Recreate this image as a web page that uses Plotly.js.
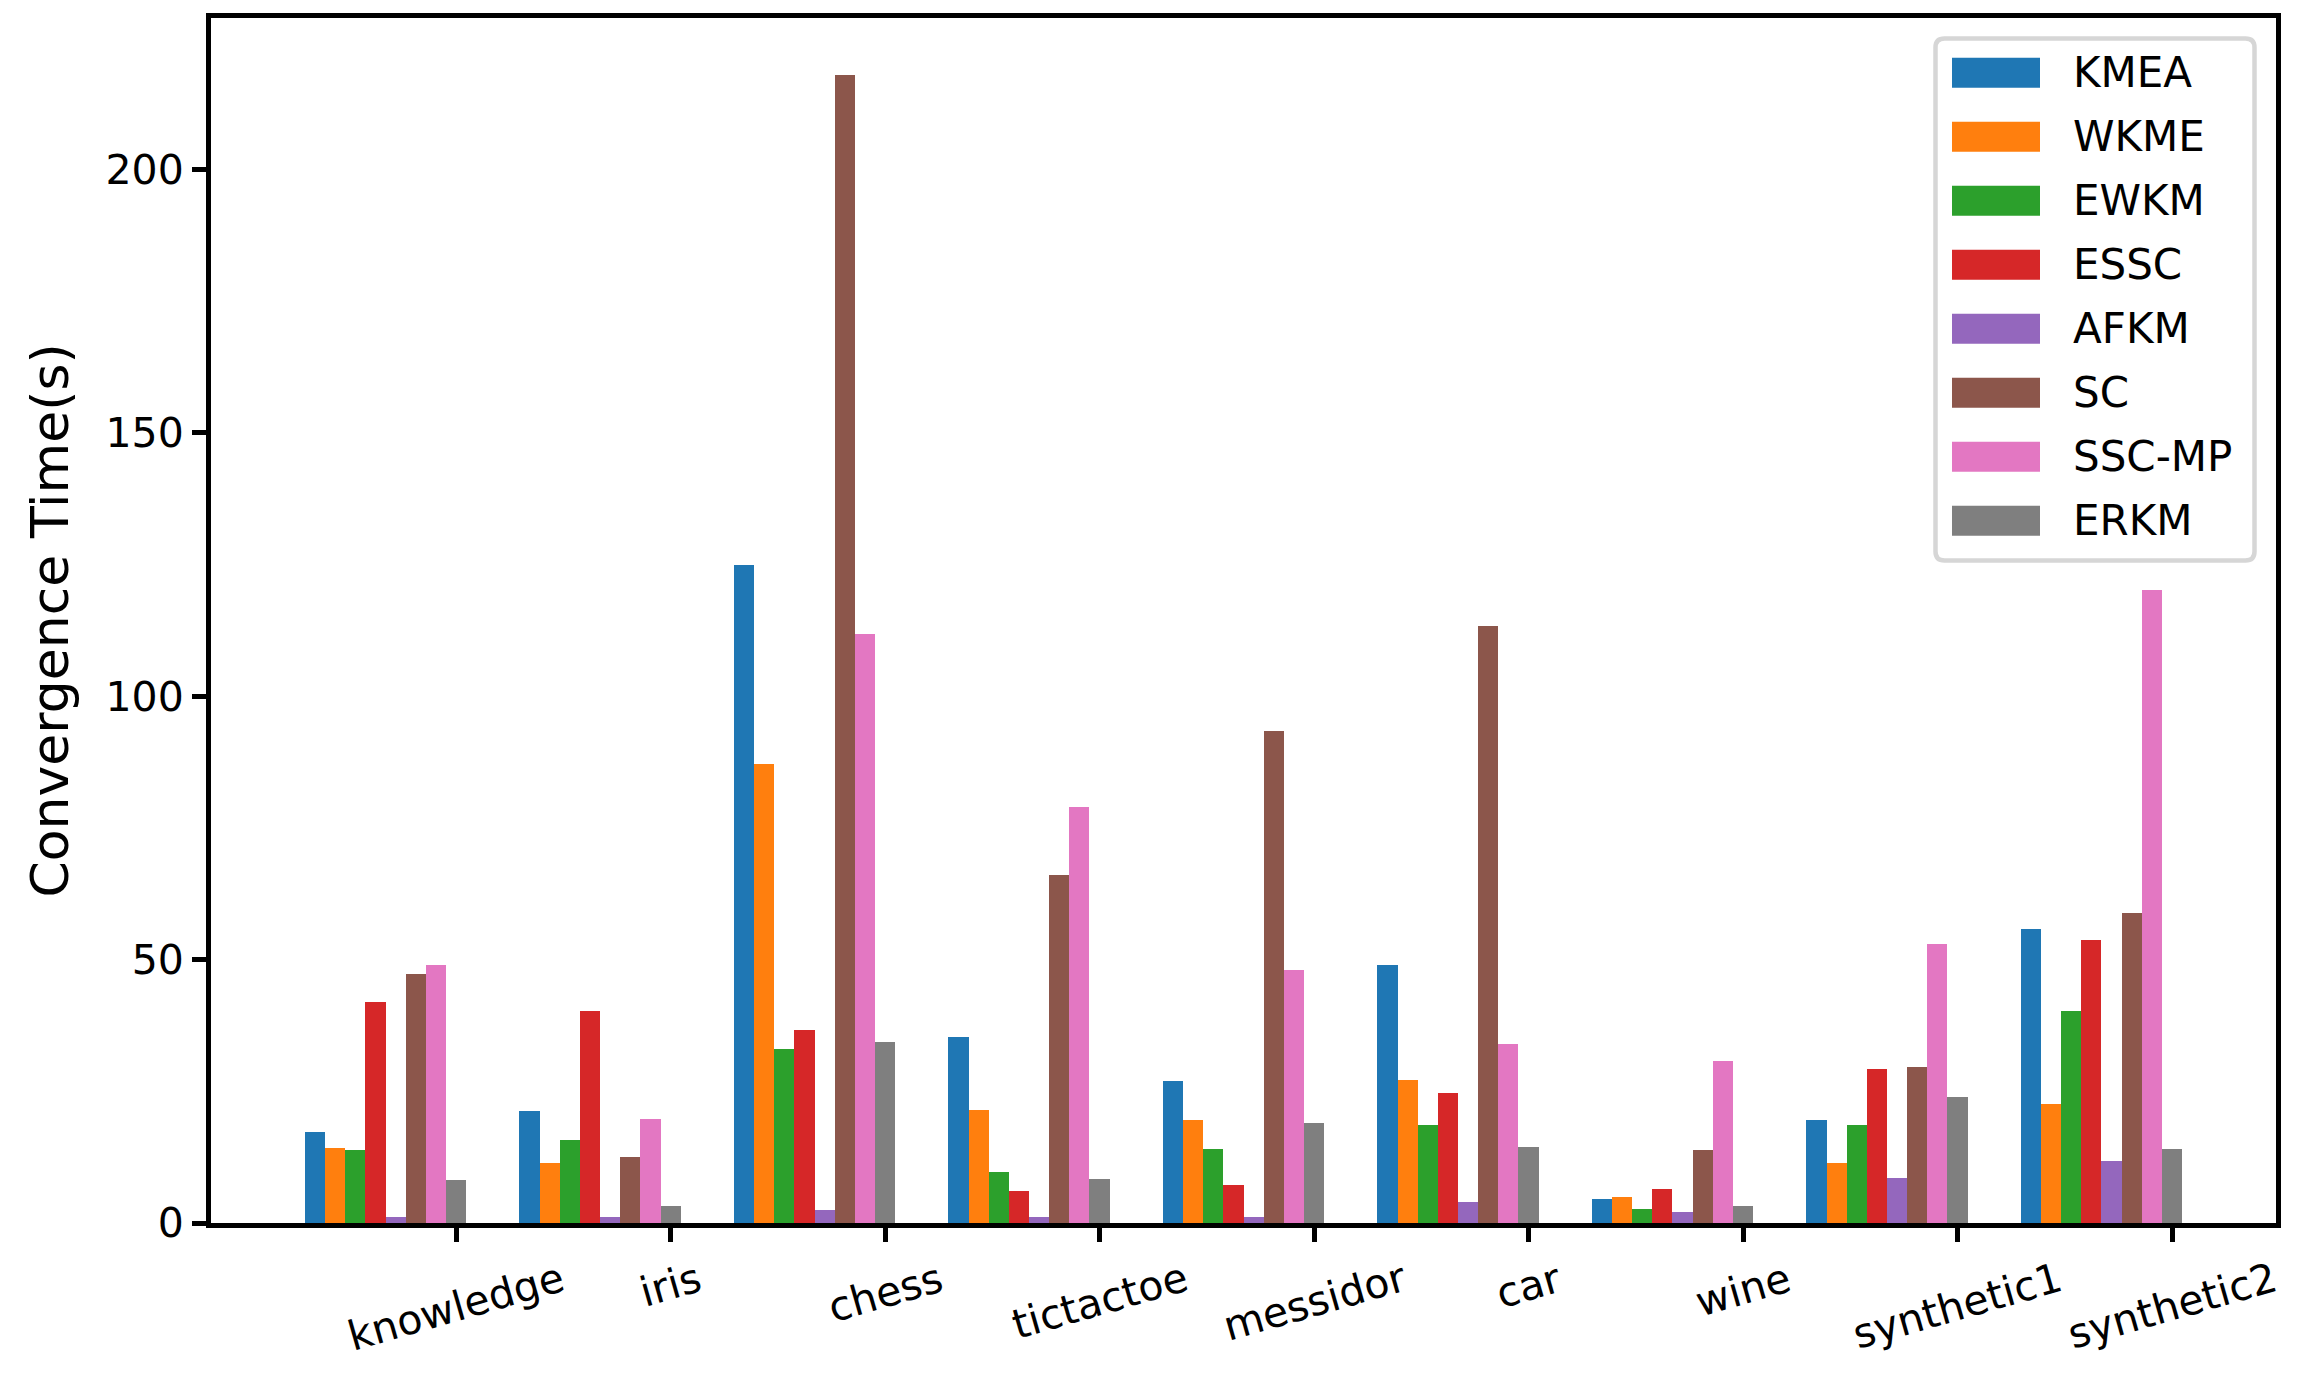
<!DOCTYPE html>
<html>
<head>
<meta charset="utf-8">
<script src="https://cdn.plot.ly/plotly-3.0.1.min.js"></script>
<style>
  html, body { margin: 0; padding: 0; background: #ffffff; }
  #chart { width: 2300px; height: 1385px; }
</style>
</head>
<body>
<div id="chart"></div>
<script>
// ---- data ----
const categories = ['knowledge', 'iris', 'chess', 'tictactoe', 'messidor', 'car', 'wine', 'synthetic1', 'synthetic2'];
const seriesNames = ['KMEA', 'WKME', 'EWKM', 'ESSC', 'AFKM', 'SC', 'SSC-MP', 'ERKM'];
const KMEA  = [17.2, 21.2, 124.9, 35.4, 27.0, 49.0, 4.6, 19.6, 55.9];
const WKME  = [14.2, 11.4, 87.1, 21.5, 19.5, 27.2, 5.0, 11.4, 22.6];
const EWKM  = [13.9, 15.7, 33.1, 9.7, 14.0, 18.6, 2.7, 18.6, 40.2];
const ESSC  = [41.9, 40.2, 36.7, 6.0, 7.3, 24.7, 6.5, 29.2, 53.7];
const AFKM  = [1.1, 1.2, 2.5, 1.2, 1.2, 3.9, 2.1, 8.6, 11.8];
const SC    = [47.2, 12.5, 217.9, 66.1, 93.5, 113.4, 13.9, 29.6, 58.9];
const SSCMP = [48.9, 19.7, 111.9, 79.0, 48.1, 34.0, 30.8, 52.9, 120.2];
const ERKM  = [8.2, 3.2, 34.4, 8.3, 18.9, 14.4, 3.3, 24.0, 14.1];
const seriesValues = [KMEA, WKME, EWKM, ESSC, AFKM, SC, SSCMP, ERKM];
const yTickVals = [0, 50, 100, 150, 200];
const yTitle = 'Convergence Time(s)';

// ---- style ----
const colors = ['#1f77b4', '#ff7f0e', '#2ca02c', '#d62728', '#9467bd', '#8c564b', '#e377c2', '#7f7f7f'];
const FONT = 'DejaVu Sans, Liberation Sans, sans-serif';
const W = 2300, H = 1385;
const M = { l: 211, r: 24, t: 18, b: 162 };
const PW = W - M.l - M.r, PH = H - M.t - M.b;
const px2x = px => (px - M.l) / PW;
const py2y = py => (H - M.b - py) / PH;

const nS = seriesNames.length;
const barW = 0.094;
// bars of a group end on the tick of the category (tick at the centre of the last bar)
const dataMin = -(nS - 0.5) * barW;
const dataMax = (categories.length - 1) + 0.5 * barW;
const pad = 0.05 * (dataMax - dataMin);
const yMax = Math.max(...seriesValues.flat()) * 1.05;

const traces = seriesNames.map((name, i) => ({
  type: 'bar',
  name: name,
  x: categories,
  y: seriesValues[i],
  width: barW,
  offset: (i - nS + 0.5) * barW,
  marker: { color: colors[i], line: { width: 0 } },
  showlegend: false,
  hoverinfo: 'x+y+name'
}));

const annotations = [];
const shapes = [];

// x tick labels (rotated, centred under each tick)
categories.forEach(c => {
  annotations.push({
    x: c, xref: 'x', y: py2y(1251), yref: 'paper',
    text: c, showarrow: false, textangle: -16,
    xanchor: 'center', yanchor: 'top',
    font: { family: FONT, size: 41, color: '#000' }
  });
});

// y axis title
annotations.push({
  x: px2x(49), xref: 'paper', y: 0.5, yref: 'paper',
  text: yTitle, showarrow: false, textangle: -90,
  xanchor: 'center', yanchor: 'middle',
  font: { family: FONT, size: 52, color: '#000' }
});

// legend frame (rounded)
const L = { x0: 1935.5, x1: 2254.5, y0: 38.5, y1: 560.5, r: 9 };
const fx = px2x, fy = py2y;
const rx = L.r / PW, ry = L.r / PH;
const lp = [
  'M', fx(L.x0) + rx, fy(L.y0),
  'L', fx(L.x1) - rx, fy(L.y0),
  'Q', fx(L.x1), fy(L.y0), fx(L.x1), fy(L.y0) - ry,
  'L', fx(L.x1), fy(L.y1) + ry,
  'Q', fx(L.x1), fy(L.y1), fx(L.x1) - rx, fy(L.y1),
  'L', fx(L.x0) + rx, fy(L.y1),
  'Q', fx(L.x0), fy(L.y1), fx(L.x0), fy(L.y1) + ry,
  'L', fx(L.x0), fy(L.y0) - ry,
  'Q', fx(L.x0), fy(L.y0), fx(L.x0) + rx, fy(L.y0),
  'Z'
];
let pathStr = '';
for (let k = 0; k < lp.length; k++) {
  const v = lp[k];
  if (typeof v === 'string') pathStr += v;
  else { pathStr += v.toFixed(6); pathStr += (typeof lp[k + 1] === 'number') ? ',' : ' '; }
}
shapes.push({
  type: 'path', xref: 'paper', yref: 'paper', path: pathStr,
  fillcolor: 'rgba(255,255,255,0.8)', line: { color: '#d6d6d6', width: 4.5 }, layer: 'above'
});

// legend entries
seriesNames.forEach((name, i) => {
  const cy = 72.8 + 64 * i;
  shapes.push({
    type: 'rect', xref: 'paper', yref: 'paper',
    x0: px2x(1952), x1: px2x(2040), y0: py2y(cy - 15), y1: py2y(cy + 15),
    fillcolor: colors[i], line: { width: 0 }, layer: 'above'
  });
  annotations.push({
    x: px2x(2071), xref: 'paper', y: py2y(cy), yref: 'paper',
    text: name, showarrow: false, xanchor: 'left', yanchor: 'middle',
    font: { family: FONT, size: 42, color: '#000' }
  });
});

const layout = {
  width: W, height: H,
  margin: M,
  paper_bgcolor: '#ffffff', plot_bgcolor: '#ffffff',
  barmode: 'overlay',
  bargap: 0,
  showlegend: false,
  font: { family: FONT, size: 41, color: '#000' },
  xaxis: {
    type: 'category',
    range: [dataMin - pad, dataMax + pad],
    tickvals: categories,
    ticktext: categories.map(() => ''),
    showgrid: false, zeroline: false,
    showline: true, mirror: true, linecolor: '#000', linewidth: 5,
    ticks: 'outside', ticklen: 14, tickwidth: 5, tickcolor: '#000'
  },
  yaxis: {
    range: [0, yMax],
    tickvals: yTickVals,
    ticktext: yTickVals.map(String),
    showgrid: false, zeroline: false,
    showline: true, mirror: true, linecolor: '#000', linewidth: 5,
    ticks: 'outside', ticklen: 14, tickwidth: 5, tickcolor: '#000',
    tickfont: { family: FONT, size: 41, color: '#000' }
  },
  annotations: annotations,
  shapes: shapes
};

Plotly.newPlot('chart', traces, layout, { displayModeBar: false, staticPlot: true });
</script>
</body>
</html>
